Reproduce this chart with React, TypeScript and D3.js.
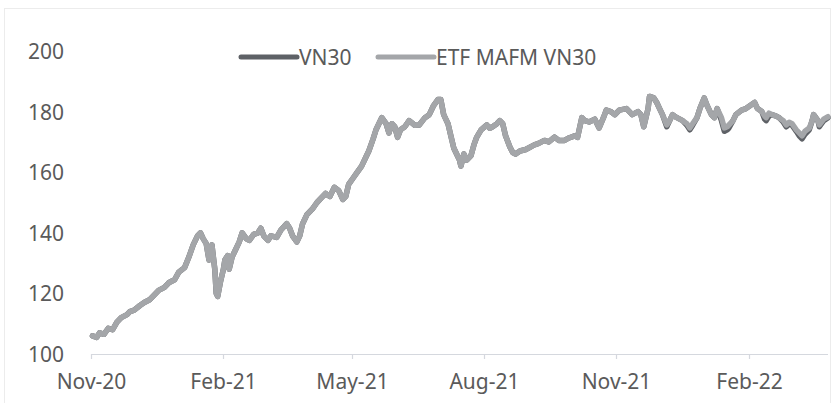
import React from "react";
import * as d3 from "d3";

const dates: string[] = [
  "2020-11-02","2020-11-05","2020-11-07","2020-11-10","2020-11-13","2020-11-16","2020-11-19","2020-11-22","2020-11-26","2020-11-28",
  "2020-12-01","2020-12-05","2020-12-08","2020-12-12","2020-12-15","2020-12-18","2020-12-22","2020-12-25","2020-12-29",
  "2021-01-01","2021-01-05","2021-01-08","2021-01-11","2021-01-14","2021-01-16","2021-01-18","2021-01-20","2021-01-22","2021-01-23","2021-01-24","2021-01-26","2021-01-27","2021-01-28","2021-01-30",
  "2021-02-01","2021-02-02","2021-02-04","2021-02-05","2021-02-07","2021-02-09","2021-02-12","2021-02-14","2021-02-17","2021-02-19","2021-02-22","2021-02-25","2021-02-27",
  "2021-03-01","2021-03-04","2021-03-06","2021-03-10","2021-03-13","2021-03-17","2021-03-19","2021-03-21","2021-03-24","2021-03-26","2021-03-28","2021-03-31",
  "2021-04-04","2021-04-07","2021-04-10","2021-04-13","2021-04-16","2021-04-19","2021-04-22","2021-04-25","2021-04-27","2021-04-29",
  "2021-05-02","2021-05-05","2021-05-08","2021-05-11","2021-05-13","2021-05-16","2021-05-18","2021-05-20","2021-05-22","2021-05-25","2021-05-27","2021-05-29","2021-05-31",
  "2021-06-02","2021-06-04","2021-06-07","2021-06-10","2021-06-14","2021-06-17","2021-06-21","2021-06-24","2021-06-27","2021-06-30",
  "2021-07-02","2021-07-04","2021-07-07","2021-07-09","2021-07-11","2021-07-13","2021-07-15","2021-07-16","2021-07-18","2021-07-20","2021-07-23","2021-07-25","2021-07-27","2021-07-30",
  "2021-08-03","2021-08-05","2021-08-07","2021-08-10","2021-08-12","2021-08-14","2021-08-16","2021-08-19","2021-08-21","2021-08-23","2021-08-26","2021-08-30",
  "2021-09-01","2021-09-05","2021-09-08","2021-09-12","2021-09-15","2021-09-19","2021-09-22","2021-09-26","2021-09-29",
  "2021-10-03","2021-10-05","2021-10-08","2021-10-10","2021-10-13","2021-10-17","2021-10-20","2021-10-23","2021-10-25","2021-10-28","2021-10-31",
  "2021-11-03","2021-11-08","2021-11-12","2021-11-16","2021-11-18","2021-11-20","2021-11-23","2021-11-24","2021-11-27","2021-11-29",
  "2021-12-01","2021-12-03","2021-12-06","2021-12-08","2021-12-10","2021-12-13","2021-12-17","2021-12-20","2021-12-22","2021-12-24","2021-12-27","2021-12-29",
  "2022-01-01","2022-01-03","2022-01-06","2022-01-08","2022-01-10","2022-01-13","2022-01-15","2022-01-17","2022-01-18","2022-01-21","2022-01-23","2022-01-27","2022-01-30",
  "2022-02-02","2022-02-05","2022-02-07","2022-02-10","2022-02-12","2022-02-13","2022-02-15","2022-02-17","2022-02-20","2022-02-22","2022-02-25","2022-02-27",
  "2022-03-01","2022-03-03","2022-03-06","2022-03-08","2022-03-10","2022-03-12","2022-03-15","2022-03-17","2022-03-18","2022-03-21","2022-03-22","2022-03-25","2022-03-28",
];

const etfValues: number[] = [
  106.0,105.5,107.0,106.5,108.5,108.0,110.5,112.0,113.0,114.0,
  114.5,116.0,117.0,118.0,119.5,121.0,122.0,123.5,124.5,
  127.0,128.5,132.0,136.0,139.0,140.0,138.0,136.5,131.0,135.0,136.0,128.0,120.0,119.0,124.0,
  128.0,131.0,132.5,128.0,132.0,134.0,137.0,140.0,138.0,137.5,139.5,140.0,141.5,
  139.0,137.5,139.0,138.5,141.0,143.0,141.5,139.0,137.0,139.0,143.0,146.0,
  148.0,150.0,151.5,153.0,152.0,155.0,154.0,151.0,152.0,156.0,
  158.0,160.0,162.0,165.0,167.0,171.0,174.0,176.0,178.0,176.0,173.0,176.0,175.0,
  171.5,174.0,175.0,177.0,175.5,175.6,178.0,179.0,182.0,184.0,
  184.0,179.0,176.0,172.0,168.0,166.0,164.0,162.0,166.0,164.0,165.5,169.0,171.6,174.0,
  175.6,174.5,175.0,176.0,177.0,176.0,172.0,168.3,166.5,166.0,167.0,167.5,
  168.0,169.0,169.5,170.5,170.0,171.6,170.5,170.5,171.3,
  172.0,171.5,178.0,177.0,176.6,177.5,174.6,178.0,180.5,180.0,179.0,
  180.5,181.0,179.0,180.0,179.0,175.0,181.0,185.0,184.5,183.0,
  181.0,179.0,175.6,177.0,179.0,178.0,177.0,176.0,174.6,176.0,178.0,181.0,
  184.5,182.0,179.0,178.0,181.0,178.0,174.6,175.0,175.5,177.0,179.0,180.5,181.0,
  182.0,183.0,181.0,180.0,178.5,178.0,179.5,179.0,178.5,178.0,177.0,175.6,
  176.5,176.0,174.0,173.0,172.0,173.5,174.6,177.0,179.0,177.0,175.6,177.5,178.3,
];

const vn30Values: number[] = [
  106.0,105.5,107.0,106.5,108.5,108.0,110.5,112.0,113.0,114.0,
  114.5,116.0,117.0,118.0,119.5,121.0,122.0,123.5,124.5,
  127.0,128.5,132.0,136.0,139.0,140.0,138.0,136.5,131.0,135.0,136.0,128.0,120.0,119.0,124.0,
  128.0,131.0,132.5,128.0,132.0,134.0,137.0,140.0,138.0,137.5,139.5,140.0,141.5,
  139.0,137.5,139.0,138.5,141.0,143.0,141.5,139.0,137.0,139.0,143.0,146.0,
  148.0,150.0,151.5,153.0,152.0,155.0,154.0,151.0,152.0,156.0,
  158.0,160.0,162.0,165.0,167.0,171.0,174.0,176.0,178.0,176.0,173.0,176.0,175.0,
  171.5,174.0,175.0,177.0,175.5,175.6,178.0,179.0,182.0,184.0,
  184.0,179.0,176.0,172.0,168.0,166.0,164.0,162.0,166.0,164.0,165.5,169.0,171.6,174.0,
  175.6,174.5,175.0,176.0,177.0,176.0,172.0,168.3,166.5,166.0,167.0,167.5,
  168.0,169.0,169.5,170.5,170.0,171.6,170.5,170.5,171.3,
  172.0,171.5,178.0,177.0,176.6,177.5,174.6,178.0,180.5,180.0,179.0,
  180.5,181.0,179.0,180.0,179.0,175.0,181.0,185.0,184.5,183.0,
  181.0,179.0,175.0,177.0,179.0,178.0,177.0,175.5,174.0,175.5,178.0,181.0,
  184.5,182.0,179.0,178.0,181.0,177.0,173.5,174.0,174.5,177.0,179.0,180.5,181.0,
  182.0,183.0,181.0,180.0,177.5,177.0,178.5,179.0,178.5,178.0,176.5,175.0,
  176.0,175.5,173.5,172.0,171.0,172.5,174.0,177.0,179.0,177.0,175.0,177.0,178.0,
];

const yTicks: number[] = [100, 120, 140, 160, 180, 200];
const xTickDates: string[] = ["2020-11-01", "2021-02-01", "2021-05-01", "2021-08-01", "2021-11-01", "2022-02-01"];
const xTickLabels: string[] = ["Nov-20", "Feb-21", "May-21", "Aug-21", "Nov-21", "Feb-22"];
const seriesNames: string[] = ["VN30", "ETF MAFM VN30"];

const W = 834;
const H = 403;
const FONT = "'Noto Sans', sans-serif";
const TEXT = "#5a5a5a";
const C_VN30 = "#5e6166";
const C_ETF = "#a4a6a9";

export default function App() {
  const parse = d3.timeParse("%Y-%m-%d");
  const x = d3
    .scaleTime()
    .domain([parse("2020-11-01") as Date, parse("2022-03-28") as Date])
    .range([91, 828]);
  const y = d3.scaleLinear().domain([100, 200]).range([354, 51]);

  const vnData = dates.map((d, i) => ({ d: parse(d) as Date, v: vn30Values[i] }));
  const etfData = dates.map((d, i) => ({ d: parse(d) as Date, v: etfValues[i] }));
  const line = d3
    .line<{ d: Date; v: number }>()
    .x((p) => x(p.d))
    .y((p) => y(p.v));

  return (
    <svg
      width={W}
      height={H}
      style={{ position: "absolute", left: 0, top: 0, background: "#fff" }}
    >
      <rect x={4.5} y={8.5} width={826} height={400} fill="#fff" stroke="#ececec" strokeWidth={1} />
      {yTicks.map((t) => (
        <text
          key={t}
          x={64}
          y={y(t)}
          textAnchor="end"
          dominantBaseline="central"
          fontFamily={FONT}
          fontSize={21}
          fill={TEXT}
        >
          {t}
        </text>
      ))}
      <line x1={91} x2={828} y1={354.5} y2={354.5} stroke="#d5d8de" strokeWidth={1.2} />
      {xTickDates.map((dt, i) => {
        const xx = Math.round(x(parse(dt) as Date)) + 0.5;
        return (
          <g key={dt}>
            <line x1={xx} x2={xx} y1={354} y2={359} stroke="#d5d8de" strokeWidth={1.2} />
            <text
              x={xx}
              y={389}
              textAnchor="middle"
              fontFamily={FONT}
              fontSize={21}
              fill={TEXT}
            >
              {xTickLabels[i]}
            </text>
          </g>
        );
      })}
      <path d={line(vnData) || ""} fill="none" stroke={C_VN30} strokeWidth={5.5} strokeLinejoin="round" strokeLinecap="round" />
      <path d={line(etfData) || ""} fill="none" stroke={C_ETF} strokeWidth={5.5} strokeLinejoin="round" strokeLinecap="round" />
      <g>
        <line x1={241} x2={297} y1={57} y2={57} stroke={C_VN30} strokeWidth={5} strokeLinecap="round" />
        <text x={299} y={57} dominantBaseline="central" fontFamily={FONT} fontSize={21} fill={TEXT}>
          {seriesNames[0]}
        </text>
        <line x1={378} x2={434} y1={57} y2={57} stroke={C_ETF} strokeWidth={5} strokeLinecap="round" />
        <text x={436} y={57} dominantBaseline="central" fontFamily={FONT} fontSize={21} fill={TEXT}>
          {seriesNames[1]}
        </text>
      </g>
    </svg>
  );
}
